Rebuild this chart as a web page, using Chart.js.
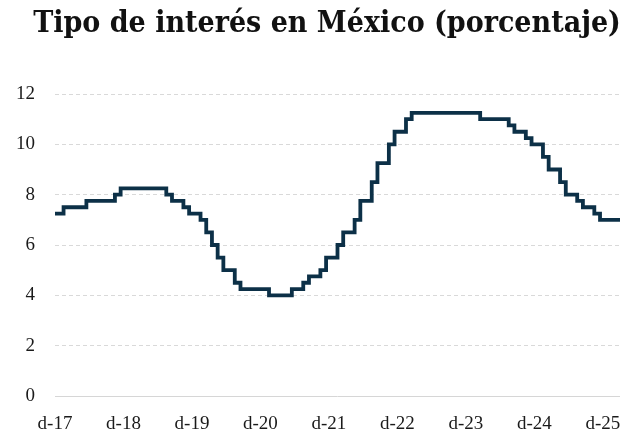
<!DOCTYPE html>
<html lang="es">
<head>
<meta charset="utf-8">
<title>Tipo de interés en México</title>
<script src="https://cdn.jsdelivr.net/npm/chart.js@4/dist/chart.umd.min.js"></script>
<style>
  html, body { margin: 0; padding: 0; background: #fff; overflow: hidden; }
  #marco { width: 638px; height: 436px; position: relative; }
  #titulo {
    position: absolute; left: 0; top: 4px; width: 654px;
    text-align: center; white-space: nowrap;
    font-family: "DejaVu Serif Condensed", "DejaVu Serif", serif;
    font-weight: bold; font-size: 30px; line-height: 36px; color: #111;
  }
</style>
</head>
<body>
<div id="marco">
  <div id="titulo">Tipo de interés en México (porcentaje)</div>
  <canvas id="tipoChart"></canvas>
</div>
<script>
// Tipo objetivo de Banxico, valor a fin de mes (%), dic-17 a mar-26
const inicialesMes = ['e', 'f', 'm', 'a', 'm', 'j', 'j', 'a', 's', 'o', 'n', 'd'];
const anios = [17, 18, 19, 20, 21, 22, 23, 24, 25, 26];

const tipos2017 = [7.25]; // solo diciembre
const tipos2018 = [7.25, 7.5, 7.5, 7.5, 7.5, 7.75, 7.75, 7.75, 7.75, 7.75, 8.0, 8.25];
const tipos2019 = [8.25, 8.25, 8.25, 8.25, 8.25, 8.25, 8.25, 8.0, 7.75, 7.75, 7.5, 7.25];
const tipos2020 = [7.25, 7.0, 6.5, 6.0, 5.5, 5.0, 5.0, 4.5, 4.25, 4.25, 4.25, 4.25];
const tipos2021 = [4.25, 4.0, 4.0, 4.0, 4.0, 4.25, 4.25, 4.5, 4.75, 4.75, 5.0, 5.5];
const tipos2022 = [5.5, 6.0, 6.5, 6.5, 7.0, 7.75, 7.75, 8.5, 9.25, 9.25, 10.0, 10.5];
const tipos2023 = [10.5, 11.0, 11.25, 11.25, 11.25, 11.25, 11.25, 11.25, 11.25, 11.25, 11.25, 11.25];
const tipos2024 = [11.25, 11.25, 11.0, 11.0, 11.0, 11.0, 11.0, 10.75, 10.5, 10.5, 10.25, 10.0];
const tipos2025 = [10.0, 9.5, 9.0, 9.0, 8.5, 8.0, 8.0, 7.75, 7.5, 7.5, 7.25, 7.0];
const tipos2026 = [7.0, 7.0, 7.0]; // ene-mar

const etiquetasEje = ['d-17', 'd-18', 'd-19', 'd-20', 'd-21', 'd-22', 'd-23', 'd-24', 'd-25'];
const ticksY = [0, 2, 4, 6, 8, 10, 12];

// --- armamos categorías mensuales y serie ---
const tiposPorAnio = [tipos2017, tipos2018, tipos2019, tipos2020, tipos2021,
                      tipos2022, tipos2023, tipos2024, tipos2025, tipos2026];
const meses = [];
const tipos = [];
tiposPorAnio.forEach((lista, i) => {
    const offset = i === 0 ? 11 : 0; // 2017 arranca en diciembre
    lista.forEach((v, j) => {
        meses.push(inicialesMes[j + offset] + '-' + anios[i]);
        tipos.push(v);
    });
});

const fuenteEjes = { family: '"Liberation Serif", "Times New Roman", serif', size: 19 };

const ctx = document.getElementById('tipoChart');

// @ts-ignore
new Chart(ctx, {
    type: 'line',
    data: {
        labels: meses,
        datasets: [{
            label: 'Tipo de interés',
            data: tipos,
            borderColor: '#0c3047',
            borderWidth: 3.8,
            stepped: 'middle',
            pointRadius: 0,
            pointHoverRadius: 0,
            borderJoinStyle: 'miter',
            fill: false
        }]
    },
    options: {
        responsive: true,
        maintainAspectRatio: false,
        animation: false,
        events: [],
        layout: { padding: { left: 0, right: 18, top: 94, bottom: 0 } },
        plugins: {
            legend: { display: false },
            tooltip: { enabled: false },
            title: { display: false }
        },
        scales: {
            x: {
                type: 'category',
                grid: { display: false, drawTicks: false },
                border: { display: false },
                ticks: {
                    autoSkip: false,
                    maxRotation: 0,
                    minRotation: 0,
                    padding: 17,
                    color: '#1a1a1a',
                    font: fuenteEjes,
                    callback: function (val) {
                        const etq = this.getLabelForValue(val);
                        return etiquetasEje.includes(etq) ? etq : null;
                    }
                },
                afterFit: (escala) => { escala.height = 40; }
            },
            y: {
                min: ticksY[0],
                max: ticksY[ticksY.length - 1],
                afterBuildTicks: (escala) => { escala.ticks = ticksY.map(v => ({ value: v })); },
                grid: {
                    drawTicks: false,
                    lineWidth: 1,
                    color: (c) => c.tick && c.tick.value === 0 ? '#d6d6d6' : '#d9d9d9'
                },
                border: { display: false, dash: (c) => c.tick && c.tick.value === 0 ? [] : [4, 3] },
                ticks: {
                    padding: 20,
                    color: '#1a1a1a',
                    font: fuenteEjes
                },
                afterFit: (escala) => { escala.width = 55; }
            }
        }
    }
});
</script>
</body>
</html>
